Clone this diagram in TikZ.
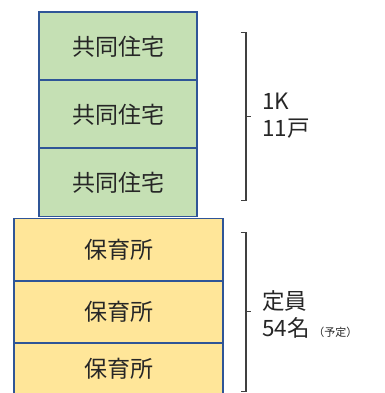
\documentclass[tikz,border=0pt]{standalone}
\usepackage{fontspec}
\setmainfont{Noto Sans CJK JP}
\definecolor{boxline}{HTML}{2F5597}
\definecolor{greenfill}{HTML}{C5E0B4}
\definecolor{yellowfill}{HTML}{FFE699}
\definecolor{brk}{HTML}{404040}
\tikzset{
  house/.style={fill=greenfill, minimum width=158pt, minimum height=68pt, inner sep=0pt, font=\fontsize{23}{23}\selectfont, text=black!85},
  nursery/.style={fill=yellowfill, minimum width=209pt, inner sep=0pt, font=\fontsize{23}{23}\selectfont, text=black!85},
  outline/.style={draw=boxline, line width=1.6pt},
  bracket/.style={draw=brk, line width=1.4pt},
  lbl/.style={font=\fontsize{22.5}{27}\selectfont, align=left, anchor=west, inner sep=0pt, text=black!85}
}
\begin{document}
\begin{tikzpicture}[x=1pt,y=-1pt]
\useasboundingbox (0,0) rectangle (384,393);
\begin{scope}
\clip (0,0) rectangle (384,393);
\node[house] (g1) at (118,46.3) {共同住宅};
\node[house] (g2) at (118,114.3) {共同住宅};
\node[house] (g3) at (118,182.3) {共同住宅};
\node[nursery, minimum height=62pt] (y1) at (118.5,249.5) {保育所};
\node[nursery, minimum height=62pt] (y2) at (118.5,311.5) {保育所};
\node[nursery, minimum height=52pt] (y3) at (118.5,368.5) {保育所};
\foreach \n in {g1,g2,g3,y1,y2,y3}
  \draw[outline] (\n.north west) rectangle (\n.south east);
\end{scope}
% brackets
\coordinate (b1t) at (246,32.5);
\coordinate (b1b) at (246,200.5);
\coordinate (b1m) at (246,116.7);
\draw[bracket] (240.5,32.5) -- (b1t) -- (b1b) -- (240.5,200.5);
\draw[bracket] (b1m) -- (251,116.7);
\coordinate (b2t) at (246,232.7);
\coordinate (b2b) at (246,391.5);
\coordinate (b2m) at (246,311.7);
\draw[bracket] (240.5,232.7) -- (b2t) -- (b2b) -- (240.5,391.5);
\draw[bracket] (b2m) -- (251,311.7);
\node[lbl] (t1) at (262,115.5) {1K\\11戸};
\node[lbl] (t2) at (262,314) {定員\\54名\,{\fontsize{11}{11}\selectfont （予定）}};
\end{tikzpicture}
\end{document}
